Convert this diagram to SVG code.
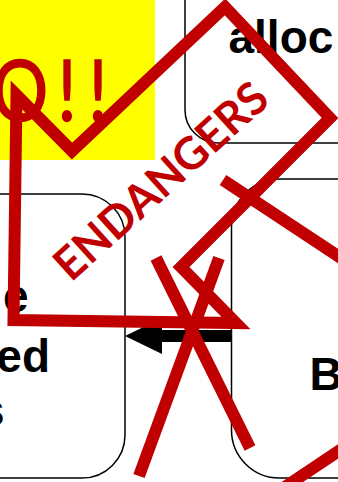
<svg xmlns="http://www.w3.org/2000/svg" width="338" height="482" viewBox="0 0 338 482">
<style>
.box{fill:#fff;stroke:#000;stroke-width:1.5}
.lbl{font-family:"Liberation Sans",Arial,sans-serif;font-weight:bold;font-size:46px;fill:#000}
.red{fill:none;stroke:#C00000;stroke-width:12;stroke-linejoin:miter;stroke-miterlimit:6}
.redtxt{fill:#C00000;font-family:Lato,"Open Sans",sans-serif}
</style>
<rect x="0" y="0" width="155" height="160" fill="#FFFF00"/>
<text class="redtxt" font-size="86" stroke="#C00000" stroke-width="1.6" transform="matrix(0.82 0 0 1 0 121)" x="-10 70 108" y="0">O!!</text>
<g id="node-alloc">
<rect class="box" x="185" y="-60" width="220" height="203" rx="33"/>
<text class="lbl" x="228.5" y="53">alloc</text>
</g>
<g id="node-left">
<rect class="box" x="-100" y="194" width="225" height="284" rx="43"/>
<text class="lbl" x="28.5" y="312" text-anchor="end">e</text>
<text class="lbl" x="50" y="372" text-anchor="end">ed</text>
<text class="lbl" x="4.5" y="426" text-anchor="end">s</text>
</g>
<g id="node-right">
<rect class="box" x="231.5" y="179" width="200" height="299" rx="48"/>
<text class="lbl" x="309.5" y="390">B</text>
</g>
<g id="connectors">
<line x1="232" y1="336" x2="155" y2="336" stroke="#000" stroke-width="12"/>
<polygon points="125,336 162,318 162,354" fill="#000"/>
</g>
<g id="annotation">
<polygon class="red" points="13.5,320 16.5,95 72,151 225,7 330,118 181,267 236,323"/>
<line class="red" x1="219" y1="258" x2="139" y2="476"/>
<line class="red" x1="156" y1="258" x2="250" y2="448"/>
<line class="red" x1="223" y1="180" x2="400" y2="297"/>
<line class="red" x1="370" y1="430" x2="270" y2="497"/>
<text class="redtxt" font-weight="bold" font-size="45" transform="translate(71,283) rotate(-42)" x="0" y="0" textLength="270" lengthAdjust="spacingAndGlyphs">ENDANGERS</text>
</g>
</svg>
